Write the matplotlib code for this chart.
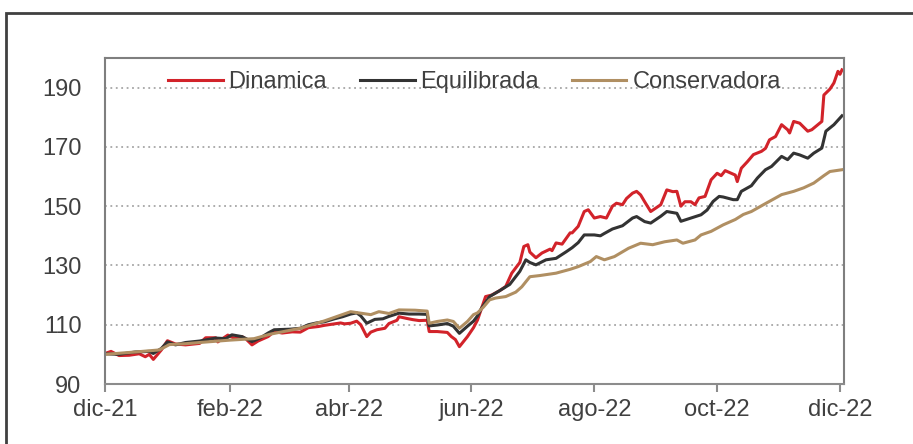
import matplotlib
matplotlib.use("Agg")
import matplotlib.pyplot as plt
from matplotlib.patches import Rectangle
import pandas as pd

plt.rcParams['font.family'] = ['Liberation Sans', 'DejaVu Sans']

START = pd.Timestamp('2021-12-01')

# days since 2021-12-01, values
red_days = [0, 3, 7, 12, 17, 20, 22, 24, 28, 31, 35, 40, 47, 50, 55, 56, 61, 64, 68, 70,
            73, 76, 81, 84, 88, 93, 97, 101, 106, 109, 113, 117, 119, 122, 125, 127, 130, 132, 135, 139,
            141, 145, 146, 150, 153, 156, 160, 161, 165, 170, 172, 174, 176, 180, 183, 185, 187, 189, 192, 196,
            199, 202, 206, 208, 210, 211, 214, 217, 221, 222, 224, 227, 231, 232, 235, 238, 240, 243, 246, 249,
            252, 254, 257, 259, 262, 264, 266, 268, 271, 276, 279, 282, 284, 286, 288, 291, 293, 295, 298, 301,
            304, 306, 308, 311, 313, 314, 316, 319, 322, 326, 328, 330, 333, 336, 339, 340, 342, 345, 349, 351,
            354, 356, 357, 360, 362, 364, 365, 366]
red_vals = [100.3, 101.0, 99.6, 99.7, 100.2, 99.2, 100.0, 98.3, 101.5, 104.6, 103.5, 103.2, 103.7, 105.6, 105.6, 104.2, 106.5, 105.5, 106.0, 105.2,
            103.2, 104.5, 106.0, 107.7, 107.2, 107.6, 107.5, 109.0, 109.4, 109.8, 110.2, 110.6, 110.3, 110.5, 111.2, 110.0, 106.0, 107.5, 108.3, 108.8,
            110.4, 111.5, 112.7, 112.1, 111.7, 111.4, 111.5, 107.7, 107.7, 107.4, 106.0, 105.0, 102.6, 106.0, 109.0, 111.6, 115.6, 119.5, 120.0, 121.5,
            122.9, 127.4, 131.0, 136.4, 137.0, 134.5, 132.6, 134.2, 135.5, 135.0, 137.6, 137.2, 141.0, 141.0, 143.2, 148.2, 148.8, 146.0, 146.5, 146.0,
            150.0, 151.0, 150.5, 152.6, 154.4, 155.0, 153.8, 151.5, 148.2, 150.5, 155.5, 154.9, 155.0, 150.0, 151.5, 151.5, 150.5, 152.8, 153.3, 158.9,
            161.1, 160.3, 162.0, 161.1, 160.5, 158.3, 162.8, 165.0, 167.4, 168.5, 169.5, 172.4, 173.5, 177.5, 175.8, 174.7, 178.6, 178.0, 175.3, 175.8,
            177.5, 178.6, 187.5, 189.5, 191.6, 195.5, 194.5, 196.0]

blk_days = [0, 7, 15, 22, 24, 28, 31, 35, 40, 47, 55, 60, 63, 68, 73, 77, 81, 84, 92, 97,
            101, 105, 109, 114, 118, 122, 125, 127, 130, 134, 138, 141, 146, 151, 156, 160, 161, 165, 170, 173,
            176, 180, 183, 185, 187, 191, 196, 201, 206, 209, 211, 214, 219, 224, 229, 232, 235, 238, 243, 246,
            248, 252, 257, 262, 264, 268, 271, 276, 279, 284, 286, 291, 296, 299, 302, 305, 307, 312, 314, 316,
            321, 324, 328, 331, 336, 339, 342, 345, 349, 352, 356, 358, 362, 366]
blk_vals = [100.2, 100.0, 100.8, 101.0, 100.3, 102.0, 104.2, 103.2, 104.0, 104.5, 105.5, 105.3, 106.6, 106.0, 104.3, 105.5, 107.2, 108.3, 108.5, 108.8,
            110.0, 110.6, 111.0, 112.0, 112.7, 113.6, 114.0, 113.0, 110.5, 111.8, 112.0, 112.8, 113.9, 113.6, 113.6, 113.5, 109.6, 109.9, 110.4, 109.5,
            107.1, 109.5, 111.2, 113.0, 115.6, 119.5, 121.5, 123.6, 128.0, 131.9, 131.0, 130.2, 131.9, 132.4, 134.6, 136.0, 137.7, 140.3, 140.3, 140.0,
            140.8, 142.3, 143.4, 146.0, 146.5, 144.8, 144.3, 146.6, 148.2, 147.6, 144.9, 146.0, 147.1, 148.7, 151.6, 153.3, 153.1, 152.2, 152.2, 155.0,
            156.9, 159.5, 162.3, 163.4, 166.8, 165.7, 167.9, 167.3, 166.2, 167.9, 169.6, 175.3, 177.5, 180.5]

tan_days = [0, 15, 27, 32, 40, 47, 62, 74, 82, 97, 109, 122, 126, 132, 136, 141, 146, 154, 160, 161,
            165, 170, 173, 176, 180, 183, 185, 188, 191, 194, 199, 204, 207, 211, 216, 224, 231, 235, 241, 244,
            248, 253, 260, 266, 272, 278, 284, 287, 293, 296, 301, 307, 313, 317, 321, 327, 336, 342, 347, 352,
            357, 360, 366]
tan_vals = [100.0, 100.8, 101.5, 103.3, 103.6, 104.0, 104.8, 105.3, 106.8, 108.8, 111.3, 114.4, 114.0, 113.4, 114.4, 113.8, 115.0, 114.9, 114.6, 110.5,
            111.1, 111.6, 111.1, 108.8, 111.1, 113.4, 114.0, 116.0, 118.4, 119.0, 119.5, 121.0, 122.8, 126.2, 126.6, 127.4, 128.7, 129.6, 131.3, 133.0,
            131.9, 133.0, 135.8, 137.5, 137.0, 138.0, 138.6, 137.5, 138.6, 140.3, 141.5, 143.7, 145.5, 147.2, 148.2, 150.5, 153.9, 155.0, 156.2, 157.8,
            160.3, 161.7, 162.3]

series_names = ['Dinamica', 'Equilibrada', 'Conservadora']
series_colors = ['#d2232a', '#333333', '#b08f62']

tick_dates = ['2021-12-01', '2022-02-01', '2022-04-01', '2022-06-01', '2022-08-01', '2022-10-01', '2022-12-01']
tick_labels = ['dic-21', 'feb-22', 'abr-22', 'jun-22', 'ago-22', 'oct-22', 'dic-22']
y_ticks = [90, 110, 130, 150, 170, 190]

fig = plt.figure(figsize=(9.13, 4.44), dpi=100)
ax = fig.add_axes([105/913, 1 - 384/444, (844-105)/913, (384-58)/444])

def to_dates(days):
    return START + pd.to_timedelta(days, unit='D')

for days, vals, name, col in zip([red_days, blk_days, tan_days], [red_vals, blk_vals, tan_vals],
                                 series_names, series_colors):
    ax.plot(to_dates(days), vals, color=col, lw=2.2, label=name, solid_joinstyle='round')

ax.set_ylim(90, 200)
ax.set_xlim(START, START + pd.Timedelta(days=367))
ax.set_yticks(y_ticks)
ax.set_xticks(pd.to_datetime(tick_dates))
ax.set_xticklabels(tick_labels)

for y in y_ticks[1:]:
    ax.axhline(y, color='#a6a6a6', lw=1.3, ls=(0, (1, 2)), zorder=0)

for s in ['left', 'top', 'right']:
    ax.spines[s].set_color('#7f7f7f')
    ax.spines[s].set_linestyle((0, (1, 1)))
    ax.spines[s].set_linewidth(1.5)
ax.spines['bottom'].set_color('#8c8c8c')
ax.spines['bottom'].set_linewidth(1.5)

ax.tick_params(axis='y', length=0, pad=17, labelsize=17, labelcolor='#404040')
ax.tick_params(axis='x', direction='out', length=6, width=1.5, color='#8c8c8c',
               pad=5, labelsize=17, labelcolor='#404040')

leg = ax.legend(loc='upper center', bbox_to_anchor=(0.5, 1.0), ncol=3, frameon=False,
                fontsize=17, handlelength=2.3, handletextpad=0.25, columnspacing=1.4,
                borderaxespad=0.15)
for t in leg.get_texts():
    t.set_color('#404040')

fig.patches.append(Rectangle((6/913, -0.1), 1.2, 0.1 + (444-13)/444, transform=fig.transFigure,
                             fill=False, edgecolor='#404040', lw=2.0))

fig.savefig('out.png', dpi=100)
